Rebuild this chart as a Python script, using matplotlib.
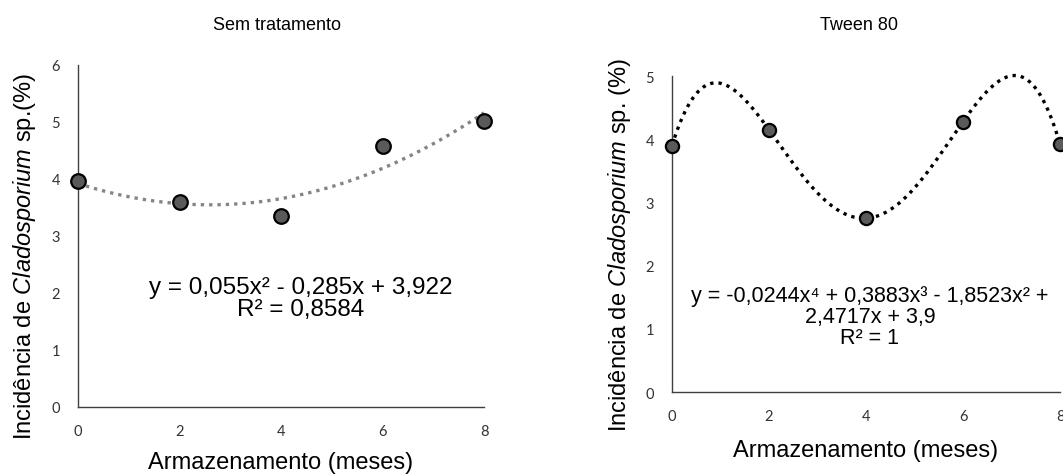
import numpy as np
import matplotlib.pyplot as plt

plt.rcParams['font.family'] = ['Liberation Sans', 'DejaVu Sans']
plt.rcParams['mathtext.fontset'] = 'custom'
plt.rcParams['mathtext.rm'] = 'Liberation Sans'
plt.rcParams['mathtext.it'] = 'Liberation Sans:italic'

# Dados
meses = [0, 2, 4, 6, 8]
sem_trat = [3.96, 3.59, 3.35, 4.57, 5.02]
tween = [3.90, 4.15, 2.75, 4.28, 3.92]

eq_sem = 'y = 0,055x\u00b2 - 0,285x + 3,922\nR\u00b2 = 0,8584'
eq_tween = ('y = -0,0244x\u2074 + 0,3883x\u00b3 - 1,8523x\u00b2 +\n'
            '2,4717x + 3,9\nR\u00b2 = 1')

ylab1 = 'Incidência de $\\it{Cladosporium}$ sp.(%)'
ylab2 = 'Incidência de $\\it{Cladosporium}$ sp. (%)'
xlab = 'Armazenamento (meses)'

fig = plt.figure(figsize=(10.63, 4.77), dpi=100)
ax1 = fig.add_axes([0.0734, 0.1447, 0.382, 0.717])
ax2 = fig.add_axes([0.6322, 0.176, 0.365, 0.6625])

xs = np.linspace(0, 8, 300)


def estilo(ax, ymax):
    for s in ['top', 'right']:
        ax.spines[s].set_visible(False)
    for s in ['left', 'bottom']:
        ax.spines[s].set_color('#404040')
        ax.spines[s].set_linewidth(1.0)
    ax.set_xlim(0, 8)
    ax.set_ylim(0, ymax)
    ax.set_xticks([0, 2, 4, 6, 8])
    ax.set_yticks(range(ymax + 1))
    for lab in ax.get_xticklabels() + ax.get_yticklabels():
        lab.set_family(['Lato', 'DejaVu Sans'])
    ax.tick_params(axis='x', length=0, pad=12, labelsize=10.5, labelcolor='#333333')
    ax.tick_params(axis='y', length=0, pad=13, labelsize=10.5, labelcolor='#333333')


# Sem tratamento
estilo(ax1, 6)
ajuste1 = np.polyfit(meses, sem_trat, 2)
ax1.plot(xs, np.polyval(ajuste1, xs), color='#858585', lw=2.4,
         linestyle=(0, (1, 1.5)), zorder=2)
ax1.plot(meses, sem_trat, 'o', ms=10.5, mfc='#5a5a5a', mec='black', mew=1.6,
         clip_on=False, zorder=3)
fig.text(277 / 1063, 1 - 25 / 477, 'Sem tratamento', fontsize=13,
         ha='center', va='center')
ax1.set_ylabel(ylab1, fontsize=17)
ax1.yaxis.set_label_coords(-0.098, 0.444)
ax1.set_xlabel(xlab, fontsize=17)
ax1.xaxis.set_label_coords(0.5, -0.128)
ax1.text(4.39, 1.92, eq_sem, ha='center', va='center', fontsize=17.5,
         linespacing=1.0)

# Tween 80
estilo(ax2, 5)
ajuste2 = np.polyfit(meses, tween, 4)
ax2.plot(xs, np.polyval(ajuste2, xs), color='black', lw=2.4,
         linestyle=(0, (1, 1.5)), zorder=2, clip_on=False)
ax2.plot(meses, tween, 'o', ms=9.5, mfc='#5a5a5a', mec='black', mew=1.6,
         clip_on=False, zorder=3)
fig.text(859 / 1063, 1 - 25 / 477, 'Tween 80', fontsize=13,
         ha='center', va='center')
ax2.set_ylabel(ylab2, fontsize=17)
ax2.yaxis.set_label_coords(-0.10, 0.468)
ax2.set_xlabel(xlab, fontsize=17)
ax2.xaxis.set_label_coords(0.5, -0.148)
ax2.text(4.08, 1.19, eq_tween, ha='center', va='center', fontsize=15.5,
         linespacing=1.0)

fig.savefig('out.png', dpi=100)
